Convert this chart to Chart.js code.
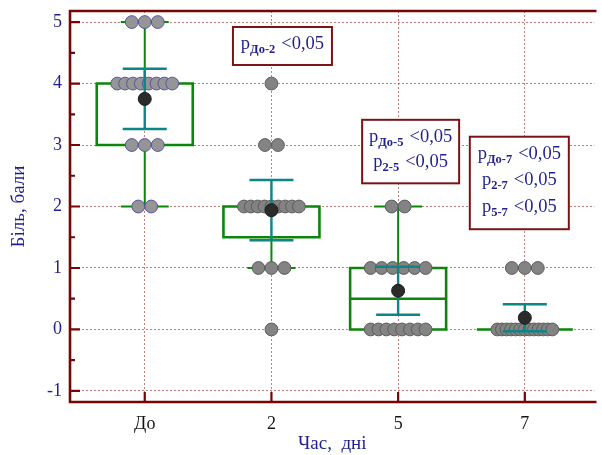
<!DOCTYPE html>
<html><head><meta charset="utf-8">
<script src="https://cdn.jsdelivr.net/npm/chart.js@4.4.1/dist/chart.umd.min.js"></script>
<style>html,body{margin:0;padding:0;background:#fff}#wrap{width:602px;height:455px;position:relative}</style>
</head><body><div id="wrap"><canvas id="c" width="602" height="455"></canvas></div>
<script>
// ---- data ----
const categories = ['До', '2', '5', '7'];
const yTickValues = [-1, 0, 1, 2, 3, 4, 5];
const scoresDo = [5,5,5,4,4,4,4,4,4,4,4,3,3,3,2,2];
const scores2  = [4,3,3,2,2,2,2,2,2,2,2,2,1,1,1,0];
const scores5  = [2,2,1,1,1,1,1,1,0,0,0,0,0,0,0,0];
const scores7  = [1,1,1,0,0,0,0,0,0,0,0,0,0,0,0,0];
const means    = [3.75, 1.94, 0.63, 0.19];
const sdValues = [0.49, 0.49, 0.39, 0.22];
const whiskerLow  = [2, 1, 0, 0];
const quart1      = [3, 1.5, 0, 0];
const medians     = [4, 2, 0.5, 0];
const quart3      = [4, 2, 1, 0];
const whiskerHigh = [5, 2, 2, 0];
const pNoteSubs = [['До-2'], ['До-5', '2-5'], ['До-7', '2-7', '5-7']];
const pNoteCats = [1, 2, 3];
const pThreshold = '<0,05';

// ---- style ----
const FONT = '"Liberation Serif", "Times New Roman", serif';
const NAVY = '#1f1f8f';
const AXIS = '#780404';
const GREEN = '#0a870a';
const TEAL = '#0b8585';

const swarmSets = [scoresDo, scores2, scores5, scores7];
const datasets = [{
  label: 'mean',
  data: means.map((m, i) => ({x: i, y: m})),
  pointRadius: 6.5, backgroundColor: '#2b2b2b', borderColor: '#1b1b1b', borderWidth: 1
}];
swarmSets.forEach((arr, i) => datasets.push({
  label: categories[i], swarm: true,
  data: arr.map(v => ({x: i, y: v})),
  pointRadius: 6.4,
  backgroundColor: i === 0 ? '#959595' : '#838383',
  borderColor: i === 0 ? '#5454a2' : '#5c5c5c',
  borderWidth: 1
}));

const drawPlugin = {
  id: 'boxes',
  afterDatasetsUpdate(chart) {
    chart.data.datasets.forEach((ds, di) => {
      if (!ds.swarm) return;
      const meta = chart.getDatasetMeta(di);
      const groups = {};
      ds.data.forEach((p, k) => { (groups[p.y] = groups[p.y] || []).push(k); });
      Object.values(groups).forEach(idx => {
        const n = idx.length;
        const sp = n > 1 ? Math.min(13, 55 / (n - 1)) : 0;
        idx.forEach((k, j) => { meta.data[k].x += (j - (n - 1) / 2) * sp; });
      });
    });
  },
  beforeDatasetsDraw(chart) {
    const {ctx, scales: {x: xs, y: ys}} = chart;
    ctx.save();
    ctx.strokeStyle = GREEN;
    categories.forEach((c, i) => {
      const cx = xs.getPixelForValue(i);
      const yl = ys.getPixelForValue(whiskerLow[i]);
      const y1 = ys.getPixelForValue(quart1[i]);
      const ym = ys.getPixelForValue(medians[i]);
      const y3 = ys.getPixelForValue(quart3[i]);
      const yh = ys.getPixelForValue(whiskerHigh[i]);
      ctx.lineWidth = 2;
      ctx.beginPath();
      if (whiskerHigh[i] > quart3[i]) {
        ctx.moveTo(cx, y3); ctx.lineTo(cx, yh);
        ctx.moveTo(cx - 24, yh); ctx.lineTo(cx + 24, yh);
      }
      if (whiskerLow[i] < quart1[i]) {
        ctx.moveTo(cx, y1); ctx.lineTo(cx, yl);
        ctx.moveTo(cx - 24, yl); ctx.lineTo(cx + 24, yl);
      }
      ctx.stroke();
      ctx.lineWidth = 2.6;
      ctx.beginPath();
      if (quart3[i] > quart1[i]) {
        ctx.rect(cx - 48, y3, 96, y1 - y3);
      } else {
        ctx.moveTo(cx - 48, y1); ctx.lineTo(cx + 48, y1);
      }
      ctx.moveTo(cx - 48, ym); ctx.lineTo(cx + 48, ym);
      ctx.stroke();
    });
    ctx.restore();
  },
  afterDatasetDraw(chart, args) {
    if (args.index !== 1) return;
    const {ctx, scales: {x: xs, y: ys}} = chart;
    ctx.save();
    ctx.strokeStyle = TEAL;
    ctx.lineWidth = 2.4;
    categories.forEach((c, i) => {
      const cx = xs.getPixelForValue(i);
      const yt = ys.getPixelForValue(means[i] + sdValues[i]);
      const yb = ys.getPixelForValue(means[i] - sdValues[i]);
      ctx.beginPath();
      ctx.moveTo(cx, yt); ctx.lineTo(cx, yb);
      ctx.moveTo(cx - 22, yt); ctx.lineTo(cx + 22, yt);
      ctx.moveTo(cx - 22, yb); ctx.lineTo(cx + 22, yb);
      ctx.stroke();
    });
    ctx.restore();
  },
  afterDraw(chart) {
    const {ctx, chartArea: a, scales: {x: xs, y: ys}} = chart;
    ctx.save();
    // frame
    ctx.strokeStyle = AXIS;
    ctx.lineWidth = 2.6;
    ctx.beginPath();
    ctx.moveTo(a.right + 2, a.top); ctx.lineTo(a.left, a.top);
    ctx.lineTo(a.left, a.bottom); ctx.lineTo(a.right + 2, a.bottom);
    ctx.stroke();
    // inward ticks
    ctx.lineWidth = 2.2;
    ctx.beginPath();
    yTickValues.forEach(v => {
      const y = ys.getPixelForValue(v);
      ctx.moveTo(a.left, y); ctx.lineTo(a.left + 10, y);
      if (v < yTickValues[yTickValues.length - 1]) {
        const ym = ys.getPixelForValue(v + 0.5);
        ctx.moveTo(a.left, ym); ctx.lineTo(a.left + 5, ym);
      }
    });
    categories.forEach((c, i) => {
      const x = xs.getPixelForValue(i);
      ctx.moveTo(x, a.bottom); ctx.lineTo(x, a.bottom - 10);
    });
    ctx.stroke();
    // p-value notes
    const layout = [
      {dx: 11, top: 4.92, w: 99, first: 22.5, gap: 25, pad: 15.5},
      {dx: 12.5, top: 3.41, w: 97, first: 22, gap: 25, pad: 16.5},
      {dx: -5.5, top: 3.135, w: 99, first: 21.8, gap: 26.6, pad: 17.5}
    ];
    const mainFont = '18.5px ' + FONT;
    const subFont = 'bold 12.5px ' + FONT;
    pNoteSubs.forEach((subs, k) => {
      const L = layout[k];
      const cx = xs.getPixelForValue(pNoteCats[k]) + L.dx;
      const top = ys.getPixelForValue(L.top);
      const h = L.first + L.gap * (subs.length - 1) + L.pad;
      ctx.fillStyle = '#fff';
      ctx.fillRect(cx - L.w / 2, top, L.w, h);
      ctx.strokeStyle = '#7a1414';
      ctx.lineWidth = 2;
      ctx.strokeRect(cx - L.w / 2, top, L.w, h);
      ctx.fillStyle = NAVY;
      ctx.textAlign = 'left';
      ctx.textBaseline = 'alphabetic';
      subs.forEach((s, j) => {
        const base = top + L.first + j * L.gap;
        ctx.font = mainFont; const wp = ctx.measureText('p').width;
        const wt = ctx.measureText(pThreshold).width;
        ctx.font = subFont; const ws = ctx.measureText(s).width;
        const gap = 6;
        const total = wp + ws + gap + wt;
        let x = cx - total / 2;
        ctx.font = mainFont; ctx.fillText('p', x, base); x += wp;
        ctx.font = subFont; ctx.fillText(s, x, base + 4); x += ws + gap;
        ctx.font = mainFont; ctx.fillText(pThreshold, x, base);
      });
    });
    ctx.restore();
  }
};

new Chart(document.getElementById('c'), {
  type: 'scatter',
  data: {datasets},
  options: {
    responsive: false, animation: false, devicePixelRatio: 1, events: [],
    layout: {padding: {top: 11, right: 0, bottom: 0, left: 0}},
    plugins: {legend: {display: false}, tooltip: {enabled: false}},
    scales: {
      x: {
        type: 'linear', min: -0.59, max: 3.55,
        afterBuildTicks: s => { s.ticks = categories.map((c, i) => ({value: i})); },
        afterFit: s => { s.height = 53; s.paddingLeft = 0; s.paddingRight = 0; },
        ticks: {callback: v => categories[v], color: '#151515', font: {family: FONT, size: 18}, padding: 11, autoSkip: false, maxRotation: 0},
        grid: {color: 'rgba(165,35,35,0.6)', lineWidth: 1, drawTicks: false},
        border: {display: false, dash: [2, 2]},
        title: {display: true, text: 'Час,  дні', color: NAVY, font: {family: FONT, size: 19}, padding: {top: 0, bottom: 0}}
      },
      y: {
        type: 'linear', min: -1.18, max: 5.18,
        afterBuildTicks: s => { s.ticks = yTickValues.map(v => ({value: v})); },
        afterFit: s => { s.width = 70; s.paddingTop = 0; s.paddingBottom = 0; },
        ticks: {color: NAVY, font: {family: FONT, size: 18}, padding: 8},
        grid: {color: 'rgba(165,35,35,0.6)', lineWidth: 1, drawTicks: false},
        border: {display: false, dash: [2, 2]},
        title: {display: true, text: 'Біль, бали', color: NAVY, font: {family: FONT, size: 19}, padding: {top: 7.5, bottom: 0}}
      }
    }
  },
  plugins: [drawPlugin]
});
</script>
</body></html>
